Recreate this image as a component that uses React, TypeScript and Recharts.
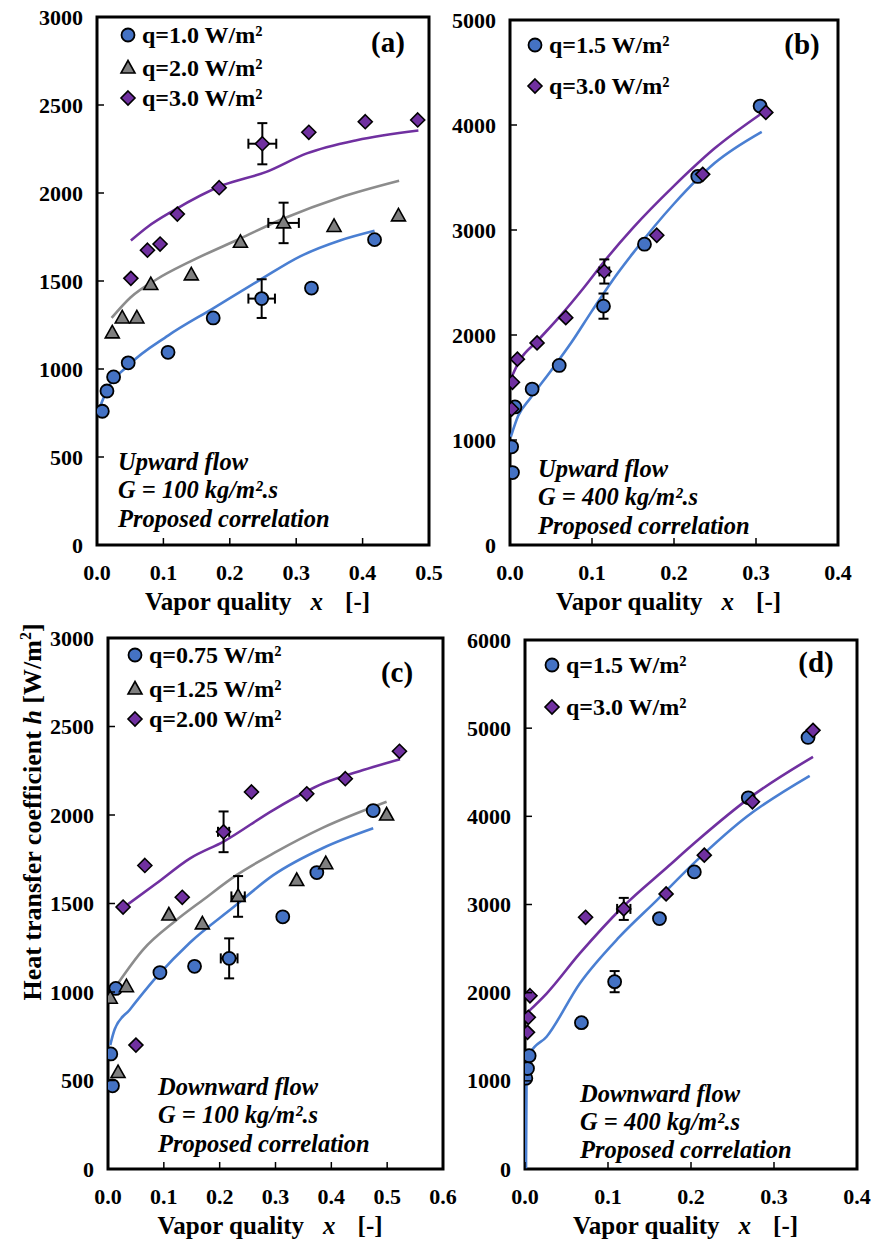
import React from 'react';
import { ComposedChart, Line, Scatter, XAxis, YAxis, ReferenceArea, ErrorBar } from 'recharts';

const SERIF = '"Liberation Serif", "Times New Roman", serif';
const BLUE = '#4472C4';
const BLUE_LINE = '#4A7FD2';
const GRAY = '#7F7F7F';
const GRAY_LINE = '#8C8C8C';
const PURPLE = '#7030A0';

// (a) upward flow, G = 100
const aQ1 = [
  { x: 0.008, h: 760 }, { x: 0.015, h: 875 }, { x: 0.025, h: 955 }, { x: 0.047, h: 1035 },
  { x: 0.107, h: 1095 }, { x: 0.175, h: 1290 }, { x: 0.248, h: 1400, eh: 110, ex: 0.02 },
  { x: 0.323, h: 1460 }, { x: 0.418, h: 1735 },
];
const aQ2 = [
  { x: 0.023, h: 1205 }, { x: 0.038, h: 1290 }, { x: 0.06, h: 1290 }, { x: 0.081, h: 1480 },
  { x: 0.142, h: 1535 }, { x: 0.216, h: 1720 }, { x: 0.281, h: 1830, eh: 115, ex: 0.023 },
  { x: 0.357, h: 1810 }, { x: 0.454, h: 1870 },
];
const aQ3 = [
  { x: 0.051, h: 1515 }, { x: 0.076, h: 1675 }, { x: 0.095, h: 1710 }, { x: 0.121, h: 1880 },
  { x: 0.184, h: 2030 }, { x: 0.249, h: 2280, eh: 117, ex: 0.021 }, { x: 0.319, h: 2345 },
  { x: 0.404, h: 2405 }, { x: 0.483, h: 2415 },
];
const aFit1 = [
  { x: 0.005, h: 790 }, { x: 0.015, h: 880 }, { x: 0.047, h: 1020 }, { x: 0.107, h: 1190 },
  { x: 0.175, h: 1345 }, { x: 0.245, h: 1505 }, { x: 0.306, h: 1640 }, { x: 0.366, h: 1730 },
  { x: 0.418, h: 1785 },
];
const aFit2 = [
  { x: 0.022, h: 1290 }, { x: 0.05, h: 1405 }, { x: 0.09, h: 1510 }, { x: 0.14, h: 1610 },
  { x: 0.215, h: 1740 }, { x: 0.281, h: 1855 }, { x: 0.366, h: 1975 }, { x: 0.455, h: 2070 },
];
const aFit3 = [
  { x: 0.051, h: 1730 }, { x: 0.077, h: 1810 }, { x: 0.115, h: 1900 }, { x: 0.19, h: 2045 },
  { x: 0.255, h: 2120 }, { x: 0.316, h: 2225 }, { x: 0.391, h: 2300 }, { x: 0.484, h: 2355 },
];

// (b) upward flow, G = 400
const bQ15 = [
  { x: 0.003, h: 690 }, { x: 0.002, h: 935 }, { x: 0.006, h: 1315 }, { x: 0.027, h: 1485 },
  { x: 0.06, h: 1710 }, { x: 0.114, h: 2275, eh: 120, ex: 0.005 }, { x: 0.164, h: 2865 },
  { x: 0.229, h: 3510 }, { x: 0.305, h: 4180 },
];
const bQ3 = [
  { x: 0.002, h: 1295 }, { x: 0.003, h: 1550 }, { x: 0.009, h: 1770 }, { x: 0.033, h: 1925 },
  { x: 0.068, h: 2165 }, { x: 0.115, h: 2605, eh: 115, ex: 0.006 }, { x: 0.179, h: 2950 },
  { x: 0.235, h: 3530 }, { x: 0.312, h: 4120 },
];
const bFit15 = [
  { x: 0.001, h: 1030 }, { x: 0.01, h: 1230 }, { x: 0.025, h: 1400 }, { x: 0.05, h: 1660 },
  { x: 0.075, h: 1930 }, { x: 0.1, h: 2230 }, { x: 0.125, h: 2520 }, { x: 0.15, h: 2780 },
  { x: 0.2, h: 3250 }, { x: 0.25, h: 3640 }, { x: 0.307, h: 3935 },
];
const bFit3 = [
  { x: 0.002, h: 1600 }, { x: 0.012, h: 1760 }, { x: 0.033, h: 1940 }, { x: 0.06, h: 2170 },
  { x: 0.09, h: 2450 }, { x: 0.118, h: 2730 }, { x: 0.15, h: 3020 }, { x: 0.2, h: 3420 },
  { x: 0.25, h: 3780 }, { x: 0.305, h: 4100 },
];

// (c) downward flow, G = 100
const cQ075 = [
  { x: 0.008, h: 470 }, { x: 0.005, h: 650 }, { x: 0.014, h: 1020 }, { x: 0.093, h: 1110 },
  { x: 0.155, h: 1145 }, { x: 0.217, h: 1190, eh: 113, ex: 0.015 }, { x: 0.313, h: 1425 },
  { x: 0.374, h: 1675 }, { x: 0.475, h: 2025 },
];
const cQ125 = [
  { x: 0.004, h: 965 }, { x: 0.018, h: 545 }, { x: 0.033, h: 1030 }, { x: 0.109, h: 1435 },
  { x: 0.169, h: 1385 }, { x: 0.233, h: 1540, eh: 115, ex: 0.012 }, { x: 0.338, h: 1630 },
  { x: 0.39, h: 1725 }, { x: 0.499, h: 2000 },
];
const cQ2 = [
  { x: 0.027, h: 1480 }, { x: 0.05, h: 700 }, { x: 0.066, h: 1715 }, { x: 0.133, h: 1535 },
  { x: 0.207, h: 1905, eh: 115, ex: 0.01 }, { x: 0.257, h: 2130 }, { x: 0.356, h: 2120 },
  { x: 0.425, h: 2205 }, { x: 0.522, h: 2360 },
];
const cFit075 = [
  { x: 0.004, h: 700 }, { x: 0.012, h: 790 }, { x: 0.039, h: 900 }, { x: 0.087, h: 1085 },
  { x: 0.147, h: 1280 }, { x: 0.225, h: 1480 }, { x: 0.296, h: 1660 }, { x: 0.386, h: 1815 },
  { x: 0.475, h: 1925 },
];
const cFit125 = [
  { x: 0.018, h: 1050 }, { x: 0.063, h: 1240 }, { x: 0.12, h: 1400 }, { x: 0.17, h: 1520 },
  { x: 0.23, h: 1660 }, { x: 0.3, h: 1790 }, { x: 0.386, h: 1930 }, { x: 0.499, h: 2075 },
];
const cFit2 = [
  { x: 0.028, h: 1478 }, { x: 0.087, h: 1614 }, { x: 0.147, h: 1755 }, { x: 0.207, h: 1850 },
  { x: 0.296, h: 2028 }, { x: 0.386, h: 2179 }, { x: 0.457, h: 2254 }, { x: 0.523, h: 2315 },
];

// (d) downward flow, G = 400
const dQ15 = [
  { x: 0.001, h: 1030 }, { x: 0.003, h: 1140 }, { x: 0.005, h: 1285 }, { x: 0.068, h: 1660 },
  { x: 0.108, h: 2125, eh: 120, ex: 0.005 }, { x: 0.162, h: 2840 }, { x: 0.204, h: 3370 },
  { x: 0.269, h: 4210 }, { x: 0.341, h: 4895 },
];
const dQ3 = [
  { x: 0.003, h: 1550 }, { x: 0.004, h: 1720 }, { x: 0.006, h: 1965 }, { x: 0.073, h: 2855 },
  { x: 0.119, h: 2950, eh: 125, ex: 0.008 }, { x: 0.17, h: 3120 }, { x: 0.216, h: 3560 },
  { x: 0.274, h: 4165 }, { x: 0.347, h: 4975 },
];
const dFit15 = [
  { x: 0.0012, h: 0 }, { x: 0.0018, h: 950 }, { x: 0.006, h: 1310 }, { x: 0.026, h: 1500 },
  { x: 0.066, h: 2105 }, { x: 0.114, h: 2635 }, { x: 0.159, h: 3050 }, { x: 0.207, h: 3500 },
  { x: 0.267, h: 3995 }, { x: 0.343, h: 4460 },
];
const dFit3 = [
  { x: 0.004, h: 1785 }, { x: 0.026, h: 1990 }, { x: 0.066, h: 2445 }, { x: 0.118, h: 2975 },
  { x: 0.171, h: 3420 }, { x: 0.207, h: 3720 }, { x: 0.275, h: 4240 }, { x: 0.347, h: 4675 },
];

const xTicks05 = [0, 0.1, 0.2, 0.3, 0.4, 0.5];
const xTicks04 = [0, 0.1, 0.2, 0.3, 0.4];
const xTicks06 = [0, 0.1, 0.2, 0.3, 0.4, 0.5, 0.6];
const yTicks3000 = [0, 500, 1000, 1500, 2000, 2500, 3000];
const yTicks5000 = [0, 1000, 2000, 3000, 4000, 5000];
const yTicks6000 = [0, 1000, 2000, 3000, 4000, 5000, 6000];

const Circle = ({ cx, cy }: any) => (
  <circle cx={cx} cy={cy} r={6.5} fill={BLUE} stroke="#000" strokeWidth={1.8} />
);
const Triangle = ({ cx, cy }: any) => (
  <polygon points={`${cx},${cy - 7.5} ${cx - 7},${cy + 5} ${cx + 7},${cy + 5}`} fill={GRAY} stroke="#000" strokeWidth={1.6} />
);
const Diamond = ({ cx, cy }: any) => (
  <polygon points={`${cx},${cy - 7} ${cx + 7},${cy} ${cx},${cy + 7} ${cx - 7},${cy}`} fill={PURPLE} stroke="#000" strokeWidth={1.6} />
);
const NoShape = () => <g />;

const XTick = ({ x, y, payload }: any) => (
  <g>
    <line x1={x} x2={x} y1={y} y2={y - 7} stroke="#000" strokeWidth={1.5} />
    <text x={x} y={y + 35} textAnchor="middle" fontFamily={SERIF} fontWeight="bold" fontSize={22} fill="#000">
      {Number(payload.value).toFixed(1)}
    </text>
  </g>
);
const YTick = ({ x, y, payload }: any) => (
  <g>
    <line x1={x} x2={x + 7} y1={y} y2={y} stroke="#000" strokeWidth={1.5} />
    <text x={x - 14} y={y + 7.5} textAnchor="end" fontFamily={SERIF} fontWeight="bold" fontSize={22} fill="#000">
      {payload.value}
    </text>
  </g>
);
const XTitle = ({ viewBox }: any) => {
  const cx = viewBox.x + viewBox.width / 2;
  return (
    <text x={cx - 118} y={viewBox.y + 65} fontFamily={SERIF} fontWeight="bold" fontSize={25} fill="#000">
      <tspan>Vapor quality</tspan>
      <tspan dx={19} fontStyle="italic">x</tspan>
      <tspan dx={22}>[-]</tspan>
    </text>
  );
};

type Pt = { x: number; h: number; ex?: number; eh?: number };
type PanelCfg = {
  box: { l: number; t: number; r: number; b: number };
  xMax: number; xTicks: number[]; yMax: number; yTicks: number[];
  fits: { data: Pt[]; color: string }[];
  sets: { data: Pt[]; shape: any }[];
};

const panels: PanelCfg[] = [
  {
    box: { l: 97, t: 17, r: 429, b: 545 }, xMax: 0.5, xTicks: xTicks05, yMax: 3000, yTicks: yTicks3000,
    fits: [{ data: aFit1, color: BLUE_LINE }, { data: aFit2, color: GRAY_LINE }, { data: aFit3, color: PURPLE }],
    sets: [{ data: aQ1, shape: Circle }, { data: aQ2, shape: Triangle }, { data: aQ3, shape: Diamond }],
  },
  {
    box: { l: 510, t: 20, r: 838, b: 545 }, xMax: 0.4, xTicks: xTicks04, yMax: 5000, yTicks: yTicks5000,
    fits: [{ data: bFit15, color: BLUE_LINE }, { data: bFit3, color: PURPLE }],
    sets: [{ data: bQ15, shape: Circle }, { data: bQ3, shape: Diamond }],
  },
  {
    box: { l: 108, t: 638, r: 443, b: 1169 }, xMax: 0.6, xTicks: xTicks06, yMax: 3000, yTicks: yTicks3000,
    fits: [{ data: cFit075, color: BLUE_LINE }, { data: cFit125, color: GRAY_LINE }, { data: cFit2, color: PURPLE }],
    sets: [{ data: cQ075, shape: Circle }, { data: cQ125, shape: Triangle }, { data: cQ2, shape: Diamond }],
  },
  {
    box: { l: 525, t: 640, r: 857, b: 1169 }, xMax: 0.4, xTicks: xTicks04, yMax: 6000, yTicks: yTicks6000,
    fits: [{ data: dFit15, color: BLUE_LINE }, { data: dFit3, color: PURPLE }],
    sets: [{ data: dQ15, shape: Circle }, { data: dQ3, shape: Diamond }],
  },
];

const YW = 80;
const XH = 76;
const PAD = 16;

function Panel({ cfg }: { cfg: PanelCfg }) {
  const { box, xMax, xTicks, yMax, yTicks, fits, sets } = cfg;
  const w = box.r - box.l + YW + PAD;
  const h = box.b - box.t + XH + PAD;
  return (
    <div style={{ position: 'absolute', left: box.l - YW, top: box.t - PAD }}>
      <ComposedChart width={w} height={h} margin={{ top: PAD, right: PAD, bottom: 0, left: 0 }} style={{ overflow: 'visible' }}>
        <XAxis type="number" dataKey="x" domain={[0, xMax]} ticks={xTicks} height={XH}
          allowDataOverflow axisLine={false} tickLine={false} tickSize={0} tickMargin={0}
          tick={(p: any) => <XTick {...p} />} label={<XTitle />} />
        <YAxis type="number" dataKey="h" domain={[0, yMax]} ticks={yTicks} width={YW}
          allowDataOverflow axisLine={false} tickLine={false} tickSize={0} tickMargin={0}
          tick={(p: any) => <YTick {...p} />} />
        <ReferenceArea x1={0} x2={xMax} y1={0} y2={yMax} fill="none" fillOpacity={0} stroke="#000" strokeWidth={3} />
        {fits.map((f, i) => (
          <Line key={'f' + i} data={f.data} dataKey="h" type="monotone" stroke={f.color} strokeWidth={2.6}
            dot={false} activeDot={false} isAnimationActive={false} />
        ))}
        {sets.map((s, i) => (
          <Scatter key={'s' + i} data={s.data} dataKey="h" shape={s.shape} isAnimationActive={false} />
        ))}
        {sets.map((s, i) => (
          <Scatter key={'e' + i} data={s.data.filter((d) => d.eh)} dataKey="h" shape={NoShape} isAnimationActive={false}>
            <ErrorBar dataKey="eh" direction="y" width={5} stroke="#000" strokeWidth={2} />
            <ErrorBar dataKey="ex" direction="x" width={5} stroke="#000" strokeWidth={2} />
          </Scatter>
        ))}
      </ComposedChart>
    </div>
  );
}

const legendA = ['q=1.0 W/m²', 'q=2.0 W/m²', 'q=3.0 W/m²'];
const legendB = ['q=1.5 W/m²', 'q=3.0 W/m²'];
const legendC = ['q=0.75 W/m²', 'q=1.25 W/m²', 'q=2.00 W/m²'];
const legendD = ['q=1.5 W/m²', 'q=3.0 W/m²'];

const notesA = ['Upward flow', 'G = 100 kg/m².s', 'Proposed correlation'];
const notesB = ['Upward flow', 'G = 400 kg/m².s', 'Proposed correlation'];
const notesC = ['Downward flow', 'G = 100 kg/m².s', 'Proposed correlation'];
const notesD = ['Downward flow', 'G = 400 kg/m².s', 'Proposed correlation'];

const LegendRows = ({ x, ys, labels, shapes }: any) => (
  <g>
    {labels.map((t: string, i: number) => {
      const S = shapes[i];
      return (
        <g key={t}>
          <S cx={x} cy={ys[i]} />
          <text x={x + 14} y={ys[i] + 8} fontFamily={SERIF} fontWeight="bold" fontSize={24}>{t}</text>
        </g>
      );
    })}
  </g>
);

const Notes = ({ x, ys, lines }: any) => (
  <g>
    {lines.map((t: string, i: number) => (
      <text key={t} x={x} y={ys[i]} fontFamily={SERIF} fontWeight="bold" fontStyle="italic" fontSize={24.5}>{t}</text>
    ))}
  </g>
);

const Letter = ({ x, y, t }: any) => (
  <text x={x} y={y + 9} textAnchor="middle" fontFamily={SERIF} fontWeight="bold" fontSize={29}>{t}</text>
);

export default function App() {
  return (
    <div style={{ position: 'absolute', left: 0, top: 0, width: 876, height: 1245, background: '#fff' }}>
      {panels.map((p, i) => <Panel key={i} cfg={p} />)}
      <svg width={876} height={1245} style={{ position: 'absolute', left: 0, top: 0, pointerEvents: 'none' }}>
        <LegendRows x={128} ys={[35, 68, 98]} labels={legendA} shapes={[Circle, Triangle, Diamond]} />
        <LegendRows x={535} ys={[45, 86]} labels={legendB} shapes={[Circle, Diamond]} />
        <LegendRows x={135} ys={[655, 689, 719]} labels={legendC} shapes={[Circle, Triangle, Diamond]} />
        <LegendRows x={552} ys={[665, 707]} labels={legendD} shapes={[Circle, Diamond]} />
        <Letter x={388} y={43} t="(a)" />
        <Letter x={802} y={45} t="(b)" />
        <Letter x={397} y={673} t="(c)" />
        <Letter x={816} y={663} t="(d)" />
        <Notes x={118} ys={[470, 498, 527]} lines={notesA} />
        <Notes x={538} ys={[477, 505, 534]} lines={notesB} />
        <Notes x={158} ys={[1095, 1123, 1152]} lines={notesC} />
        <Notes x={580} ys={[1102, 1130, 1158]} lines={notesD} />
        <text transform="translate(41,812) rotate(-90)" textAnchor="middle" fontFamily={SERIF} fontWeight="bold" fontSize={26}>
          <tspan>Heat transfer coefficient </tspan>
          <tspan fontStyle="italic">h</tspan>
          <tspan>  [W/m</tspan>
          <tspan fontSize={16} dy={-10}>2</tspan>
          <tspan dy={10}>]</tspan>
        </text>
      </svg>
    </div>
  );
}
